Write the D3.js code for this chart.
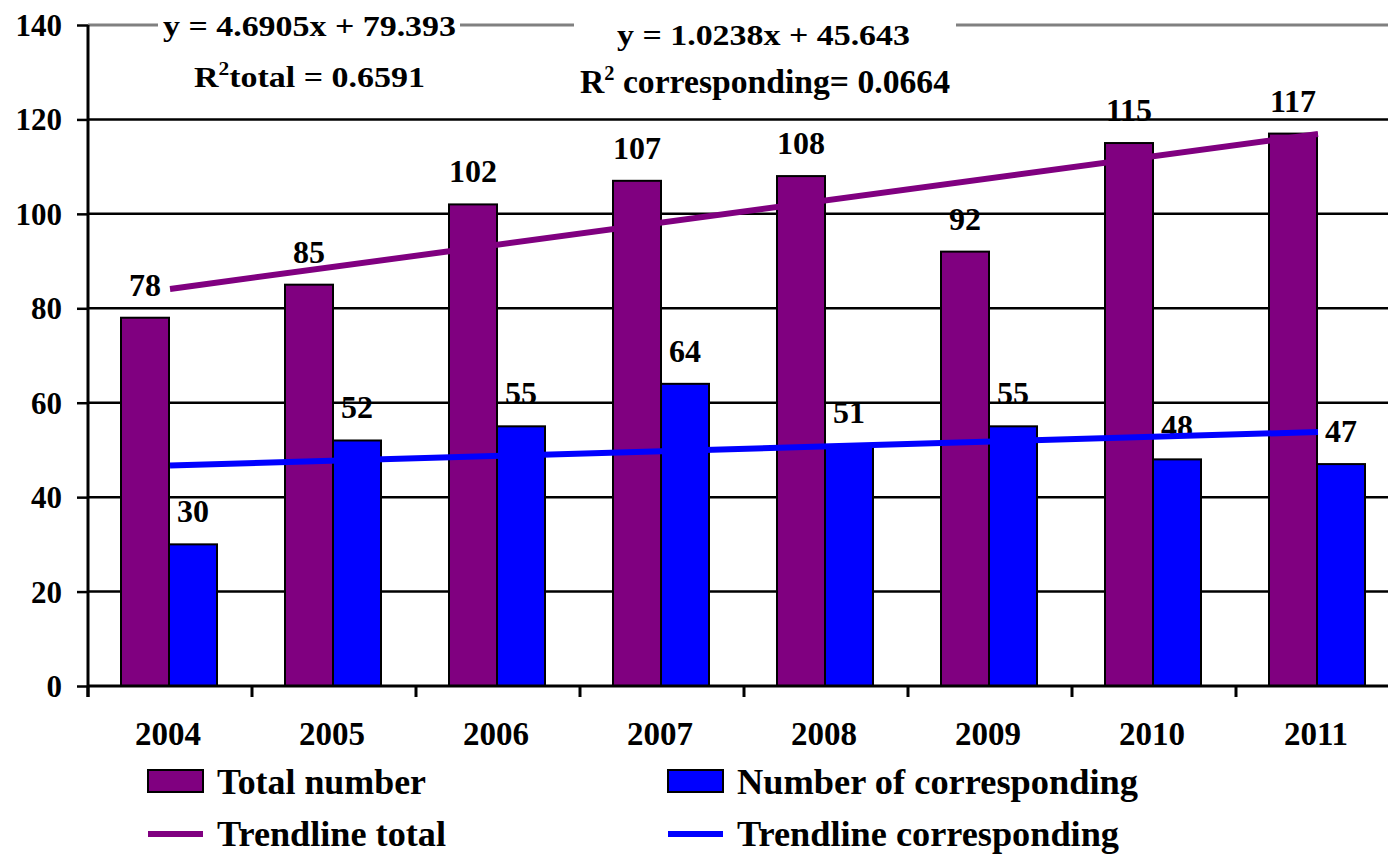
<!DOCTYPE html>
<html>
<head>
<meta charset="utf-8">
<script src="https://cdn.jsdelivr.net/npm/d3@7"></script>
<style>
  body { margin: 0; background: #fff; }
  text { font-family: "Liberation Serif", "Times New Roman", serif; font-weight: bold; fill: #000; }
</style>
</head>
<body>
<script>
// values
var years = ["2004", "2005", "2006", "2007", "2008", "2009", "2010", "2011"];
var totalNumber = [78, 85, 102, 107, 108, 92, 115, 117];
var corresponding = [30, 52, 55, 64, 51, 55, 48, 47];
// trendline end points (first and last year)
var trendTotal = [84.1, 116.9];
var trendCorr = [46.7, 53.8];
var yTicks = [0, 20, 40, 60, 80, 100, 120, 140];

var width = 1388, height = 856;

var svg = d3.select("body").append("svg")
    .attr("width", width)
    .attr("height", height);

var x = d3.scaleBand().domain(years).range([88, 1400]);
var y = d3.scaleLinear().domain([0, 140]).range([686, 25]);
var inner = d3.scaleBand().domain(["total", "corr"]).range([0, 96]);

// gridlines
svg.append("g")
    .selectAll("line")
    .data(yTicks.slice(1))
    .enter().append("line")
      .attr("x1", 88).attr("x2", width)
      .attr("y1", function(d) { return y(d); })
      .attr("y2", function(d) { return y(d); })
      .attr("stroke", function(d) { return d === 140 ? "#808080" : "#000"; })
      .attr("stroke-width", function(d) { return d === 140 ? 3 : 2.5; });

// y axis
var yAxis = svg.append("g")
    .attr("transform", "translate(88,0)")
    .call(d3.axisLeft(y).tickValues(yTicks).tickSize(11).tickPadding(15));
yAxis.select(".domain").remove();
yAxis.selectAll(".tick line").attr("stroke", "#000").attr("stroke-width", 2.5);
yAxis.selectAll(".tick text")
    .attr("dy", "0.34em")
    .style("font-size", "31px")
    .style("font-family", "Liberation Serif")
    .style("font-weight", "bold");

svg.append("line")
    .attr("x1", 88).attr("x2", 88)
    .attr("y1", y(140)).attr("y2", 697)
    .attr("stroke", "#000").attr("stroke-width", 3);

// bars
var group = svg.append("g").selectAll("g")
    .data(years)
    .enter().append("g")
      .attr("transform", function(d) { return "translate(" + (x(d) + (x.bandwidth() - 96) / 2 - 1) + ",0)"; });

group.append("rect")
    .attr("x", inner("total"))
    .attr("width", inner.bandwidth())
    .attr("y", function(d, i) { return y(totalNumber[i]); })
    .attr("height", function(d, i) { return y(0) - y(totalNumber[i]); })
    .attr("fill", "#800080").attr("stroke", "#000").attr("stroke-width", 2);

group.append("rect")
    .attr("x", inner("corr"))
    .attr("width", inner.bandwidth())
    .attr("y", function(d, i) { return y(corresponding[i]); })
    .attr("height", function(d, i) { return y(0) - y(corresponding[i]); })
    .attr("fill", "#0000ff").attr("stroke", "#000").attr("stroke-width", 2);

// x axis baseline and ticks
svg.append("line")
    .attr("x1", 88).attr("x2", width)
    .attr("y1", y(0)).attr("y2", y(0))
    .attr("stroke", "#000").attr("stroke-width", 3);

svg.append("g").selectAll("line")
    .data(years)
    .enter().append("line")
      .attr("x1", function(d) { return x(d); })
      .attr("x2", function(d) { return x(d); })
      .attr("y1", y(0)).attr("y2", 697)
      .attr("stroke", "#000").attr("stroke-width", 3);

svg.append("g").selectAll("text")
    .data(years)
    .enter().append("text")
      .attr("x", function(d) { return x(d) + x.bandwidth() / 2 - 2; })
      .attr("y", 745)
      .attr("text-anchor", "middle")
      .style("font-size", "33px")
      .text(function(d) { return d; });

// trendlines
var line = d3.line()
    .x(function(d) { return x(d[0]) + x.bandwidth() / 2; })
    .y(function(d) { return y(d[1]); });

svg.append("path")
    .attr("d", line([[years[0], trendTotal[0]], [years[years.length - 1], trendTotal[1]]]))
    .attr("stroke", "#800080").attr("stroke-width", 6).attr("fill", "none");

svg.append("path")
    .attr("d", line([[years[0], trendCorr[0]], [years[years.length - 1], trendCorr[1]]]))
    .attr("stroke", "#0000ff").attr("stroke-width", 6).attr("fill", "none");

// value labels
group.append("text")
    .attr("x", inner("total") + inner.bandwidth() / 2)
    .attr("y", function(d, i) { return y(totalNumber[i]) - 22; })
    .attr("text-anchor", "middle")
    .style("font-size", "32px")
    .text(function(d, i) { return totalNumber[i]; });

group.append("text")
    .attr("x", inner("corr") + inner.bandwidth() / 2)
    .attr("y", function(d, i) { return y(corresponding[i]) - 22; })
    .attr("text-anchor", "middle")
    .style("font-size", "32px")
    .text(function(d, i) { return corresponding[i]; });

// equation labels (white boxes over the top line)
svg.append("rect").attr("x", 158).attr("y", 8).attr("width", 302).attr("height", 36).attr("fill", "#fff");
svg.append("rect").attr("x", 574).attr("y", 8).attr("width", 382).attr("height", 36).attr("fill", "#fff");

svg.append("text")
    .attr("x", 163).attr("y", 36)
    .attr("textLength", 293).attr("lengthAdjust", "spacingAndGlyphs")
    .style("font-size", "30px")
    .text("y = 4.6905x + 79.393");

var r1 = svg.append("text")
    .attr("x", 194).attr("y", 87)
    .attr("textLength", 231).attr("lengthAdjust", "spacingAndGlyphs")
    .style("font-size", "30px");
r1.append("tspan").text("R");
r1.append("tspan").attr("dy", -12).style("font-size", "19px").text("2");
r1.append("tspan").attr("dy", 12).text("total = 0.6591");

svg.append("text")
    .attr("x", 617).attr("y", 45)
    .attr("textLength", 293).attr("lengthAdjust", "spacingAndGlyphs")
    .style("font-size", "30px")
    .text("y = 1.0238x + 45.643");

var r2 = svg.append("text")
    .attr("x", 580).attr("y", 93)
    .attr("textLength", 370).attr("lengthAdjust", "spacingAndGlyphs")
    .style("font-size", "33px");
r2.append("tspan").text("R");
r2.append("tspan").attr("dy", -13).style("font-size", "20px").text("2");
r2.append("tspan").attr("dy", 13).text(" corresponding= 0.0664");

// legend
var legendItems = [
  {label: "Total number", color: "#800080", type: "rect", x: 148, y: 794, len: 209},
  {label: "Number of corresponding", color: "#0000ff", type: "rect", x: 668, y: 794, len: 401},
  {label: "Trendline total", color: "#800080", type: "line", x: 148, y: 846, len: 229},
  {label: "Trendline corresponding", color: "#0000ff", type: "line", x: 668, y: 846, len: 382}
];

var legend = svg.append("g").selectAll("g")
    .data(legendItems)
    .enter().append("g")
      .attr("transform", function(d) { return "translate(" + d.x + "," + d.y + ")"; });

legend.filter(function(d) { return d.type === "rect"; })
  .append("rect")
    .attr("x", 0).attr("y", -24).attr("width", 55).attr("height", 22)
    .attr("fill", function(d) { return d.color; })
    .attr("stroke", "#000").attr("stroke-width", 2);

legend.filter(function(d) { return d.type === "line"; })
  .append("line")
    .attr("x1", 0).attr("x2", 55).attr("y1", -12).attr("y2", -12)
    .attr("stroke", function(d) { return d.color; })
    .attr("stroke-width", 6);

legend.append("text")
    .attr("x", 69)
    .attr("textLength", function(d) { return d.len; })
    .attr("lengthAdjust", "spacingAndGlyphs")
    .style("font-size", "36px")
    .text(function(d) { return d.label; });
</script>
</body>
</html>
